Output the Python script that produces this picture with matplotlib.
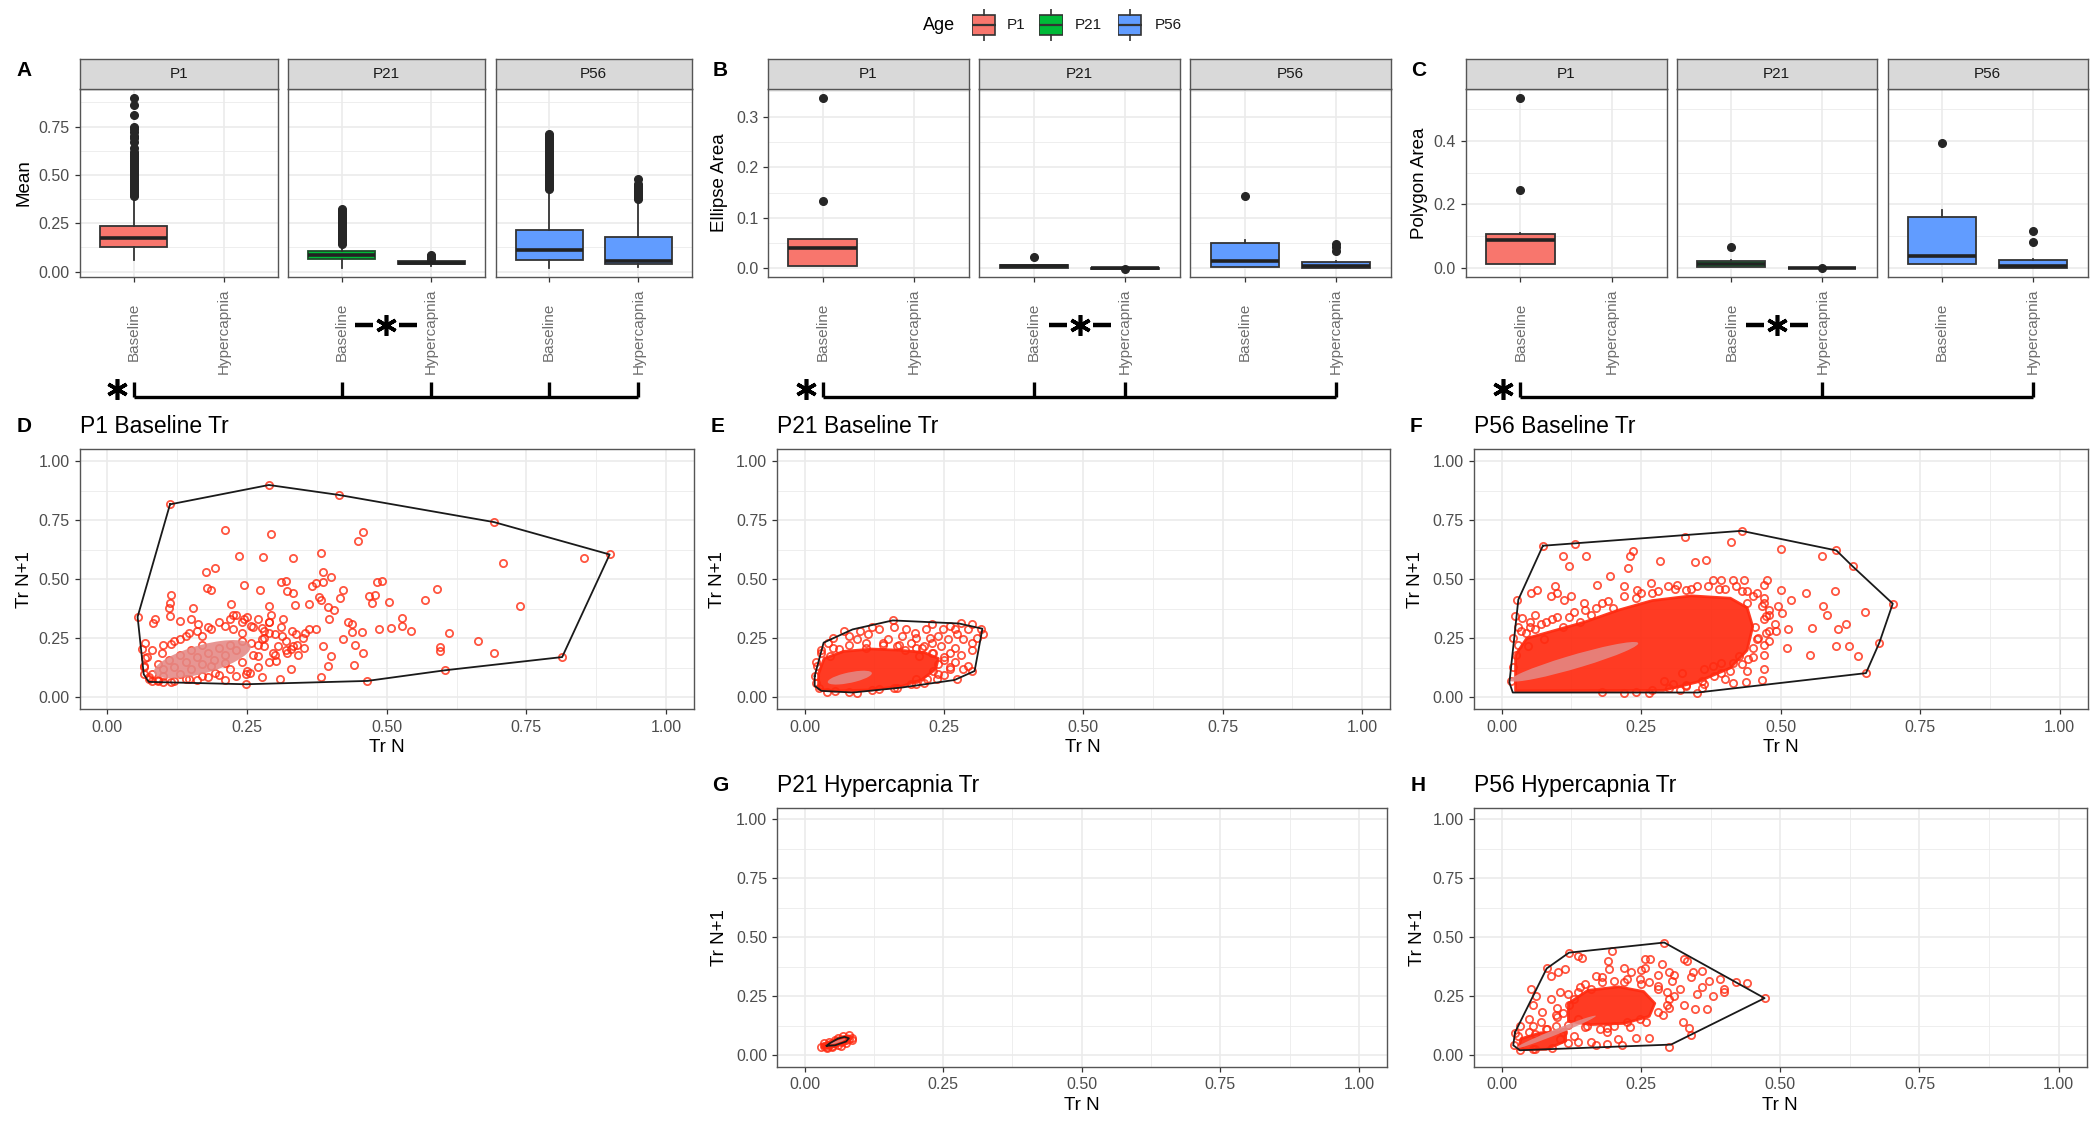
import numpy as np
import matplotlib.pyplot as plt
from matplotlib.patches import Ellipse, Polygon, Rectangle
from matplotlib.lines import Line2D

plt.rcParams['font.family'] = ['Liberation Sans', 'DejaVu Sans']

# ---------------- box plot data ----------------
ages = ["P1", "P21", "P56"]
age_colors = ["#F8766D", "#00BA38", "#619CFF"]
conditions = ["Baseline", "Hypercapnia"]

# order: P1 Baseline, P21 Baseline, P21 Hypercapnia, P56 Baseline, P56 Hypercapnia
mean_q1 = [0.129, 0.066, 0.038, 0.060, 0.040]
mean_med = [0.176, 0.088, 0.045, 0.112, 0.055]
mean_q3 = [0.236, 0.107, 0.057, 0.216, 0.178]
mean_lo = [0.060, 0.017, 0.030, 0.017, 0.026]
mean_hi = [0.388, 0.140, 0.060, 0.420, 0.370]
mean_fliers = [
    [0.39, 0.40, 0.41, 0.42, 0.43, 0.44, 0.45, 0.46, 0.47, 0.48, 0.49, 0.50, 0.51, 0.52,
     0.53, 0.54, 0.55, 0.56, 0.57, 0.58, 0.59, 0.60, 0.61, 0.62, 0.64, 0.67, 0.69, 0.70,
     0.72, 0.74, 0.75, 0.81, 0.86, 0.90],
    [0.145, 0.155, 0.165, 0.175, 0.185, 0.195, 0.205, 0.215, 0.225, 0.235, 0.245, 0.255,
     0.265, 0.275, 0.285, 0.295, 0.305, 0.315, 0.325],
    [0.065, 0.07, 0.075, 0.08, 0.085],
    [0.43, 0.44, 0.45, 0.46, 0.47, 0.48, 0.49, 0.50, 0.51, 0.52, 0.53, 0.54, 0.55, 0.56,
     0.57, 0.58, 0.59, 0.60, 0.61, 0.62, 0.63, 0.64, 0.65, 0.66, 0.67, 0.68, 0.69, 0.70, 0.71],
    [0.375, 0.385, 0.395, 0.405, 0.415, 0.425, 0.435, 0.445, 0.455, 0.48],
]

ell_q1 = [0.0053, 0.0013, -0.0005, 0.0033, 0.0]
ell_med = [0.041, 0.004, 0.0, 0.0145, 0.005]
ell_q3 = [0.0574, 0.0066, 0.0008, 0.051, 0.012]
ell_lo = [0.0053, 0.0, -0.001, 0.0033, 0.0]
ell_hi = [0.0574, 0.0070, 0.001, 0.057, 0.015]
ell_fliers = [[0.133, 0.336], [0.023], [-0.001], [0.144], [0.035, 0.043, 0.048]]

poly_q1 = [0.0126, 0.005, -0.001, 0.0126, 0.0]
poly_med = [0.089, 0.012, 0.0, 0.039, 0.008]
poly_q3 = [0.107, 0.021, 0.001, 0.162, 0.025]
poly_lo = [0.0126, 0.003, -0.002, 0.0126, 0.0]
poly_hi = [0.11, 0.025, 0.002, 0.183, 0.03]
poly_fliers = [[0.246, 0.534], [0.066], [0.0], [0.393], [0.081, 0.118]]

# ---------------- scatter data (Tr N, Tr N+1) ----------------
d_pts = [
    (0.210, 0.709), (0.292, 0.692), (0.458, 0.699), (0.448, 0.664), (0.236, 0.597), (0.279, 0.594),
    (0.333, 0.590), (0.383, 0.611), (0.708, 0.569), (0.853, 0.590), (0.176, 0.529), (0.193, 0.548),
    (0.385, 0.529), (0.401, 0.510), (0.385, 0.489), (0.311, 0.487), (0.319, 0.492), (0.245, 0.475),
    (0.273, 0.456), (0.179, 0.463), (0.186, 0.454), (0.321, 0.449), (0.333, 0.442), (0.366, 0.473),
    (0.374, 0.485), (0.421, 0.456), (0.483, 0.487), (0.491, 0.492), (0.479, 0.435), (0.469, 0.431),
    (0.474, 0.400), (0.504, 0.403), (0.568, 0.412), (0.590, 0.459), (0.739, 0.389), (0.379, 0.426),
    (0.382, 0.414), (0.417, 0.421), (0.395, 0.383), (0.405, 0.372), (0.397, 0.333), (0.361, 0.397),
    (0.336, 0.393), (0.289, 0.389), (0.221, 0.397), (0.154, 0.379), (0.114, 0.435), (0.112, 0.400),
    (0.110, 0.379), (0.086, 0.330), (0.082, 0.316), (0.112, 0.344), (0.130, 0.323), (0.162, 0.309),
    (0.150, 0.330), (0.210, 0.302), (0.224, 0.347), (0.244, 0.330), (0.289, 0.319), (0.315, 0.330),
    (0.361, 0.288), (0.373, 0.288), (0.431, 0.319), (0.437, 0.313), (0.437, 0.277), (0.455, 0.279),
    (0.487, 0.288), (0.508, 0.295), (0.527, 0.302), (0.527, 0.337), (0.544, 0.281), (0.612, 0.274),
    (0.664, 0.239), (0.692, 0.187), (0.595, 0.215), (0.595, 0.197), (0.458, 0.190), (0.444, 0.221),
    (0.421, 0.249), (0.386, 0.218), (0.401, 0.176), (0.394, 0.133), (0.382, 0.088), (0.442, 0.136),
    (0.309, 0.080), (0.276, 0.087), (0.248, 0.098), (0.256, 0.103), (0.301, 0.154), (0.297, 0.190),
    (0.289, 0.274), (0.313, 0.260), (0.337, 0.267), (0.353, 0.274), (0.329, 0.204), (0.321, 0.190),
    (0.351, 0.211), (0.341, 0.178), (0.333, 0.218), (0.329, 0.119), (0.305, 0.218), (0.269, 0.176),
    (0.281, 0.218), (0.257, 0.232), (0.277, 0.246), (0.241, 0.274), (0.225, 0.288), (0.257, 0.302),
    (0.277, 0.295), (0.293, 0.347), (0.210, 0.147), (0.193, 0.105), (0.186, 0.133), (0.170, 0.091),
    (0.146, 0.077), (0.114, 0.066), (0.090, 0.070), (0.074, 0.077), (0.066, 0.133), (0.068, 0.169),
    (0.062, 0.204), (0.068, 0.232), (0.098, 0.190), (0.114, 0.225), (0.130, 0.246), (0.146, 0.274),
    (0.170, 0.260), (0.186, 0.288), (0.112, 0.817), (0.289, 0.899), (0.414, 0.857), (0.692, 0.742),
    (0.899, 0.605), (0.814, 0.171), (0.604, 0.115), (0.465, 0.070), (0.248, 0.056), (0.054, 0.341),
    (0.08, 0.07), (0.10, 0.065), (0.12, 0.07), (0.14, 0.08), (0.16, 0.075), (0.18, 0.085),
    (0.20, 0.095), (0.22, 0.12), (0.24, 0.15), (0.26, 0.18), (0.27, 0.22), (0.28, 0.25),
    (0.26, 0.30), (0.24, 0.32), (0.22, 0.33), (0.20, 0.32), (0.18, 0.30), (0.16, 0.28),
    (0.14, 0.26), (0.12, 0.24), (0.10, 0.22), (0.08, 0.20), (0.07, 0.17), (0.065, 0.13),
    (0.23, 0.35), (0.25, 0.34), (0.27, 0.33), (0.29, 0.32), (0.31, 0.30), (0.33, 0.28),
    (0.35, 0.25), (0.34, 0.22), (0.32, 0.20), (0.30, 0.18), (0.29, 0.15), (0.27, 0.13),
    (0.25, 0.11), (0.23, 0.09), (0.21, 0.075), (0.08, 0.10), (0.10, 0.12), (0.12, 0.13),
    (0.14, 0.15), (0.16, 0.17), (0.18, 0.19), (0.20, 0.21), (0.22, 0.22), (0.24, 0.24),
    (0.10, 0.09), (0.13, 0.10), (0.15, 0.12), (0.17, 0.14), (0.19, 0.16), (0.21, 0.18),
    (0.23, 0.20), (0.09, 0.14), (0.11, 0.16), (0.13, 0.18), (0.15, 0.20), (0.17, 0.22),
    (0.075, 0.085), (0.09, 0.075), (0.065, 0.10), (0.28, 0.28), (0.30, 0.27), (0.32, 0.24),
]
d_hull = [(0.112, 0.817), (0.289, 0.899), (0.414, 0.857), (0.692, 0.742), (0.899, 0.605),
          (0.814, 0.171), (0.604, 0.115), (0.465, 0.070), (0.248, 0.056), (0.074, 0.066),
          (0.065, 0.098), (0.054, 0.341)]
d_ellipse = (0.170, 0.162, 0.215, 0.10, 42)

e_pts = [
    (0.158, 0.326), (0.182, 0.288), (0.134, 0.288), (0.114, 0.267), (0.070, 0.281), (0.094, 0.246),
    (0.042, 0.232), (0.062, 0.204), (0.150, 0.246), (0.174, 0.260), (0.198, 0.274), (0.218, 0.288),
    (0.229, 0.309), (0.249, 0.288), (0.261, 0.302), (0.281, 0.316), (0.293, 0.288), (0.317, 0.288),
    (0.273, 0.267), (0.257, 0.246), (0.285, 0.246), (0.301, 0.232), (0.245, 0.218), (0.229, 0.232),
    (0.214, 0.218), (0.190, 0.232), (0.166, 0.218), (0.261, 0.190), (0.229, 0.190), (0.206, 0.176),
    (0.293, 0.133), (0.285, 0.119), (0.301, 0.112), (0.273, 0.077), (0.237, 0.077), (0.214, 0.063),
    (0.190, 0.056), (0.166, 0.042), (0.134, 0.035), (0.094, 0.021), (0.054, 0.028), (0.026, 0.042),
    (0.018, 0.091), (0.022, 0.133), (0.320, 0.270), (0.310, 0.250), (0.270, 0.210), (0.250, 0.170),
    (0.240, 0.140), (0.270, 0.150), (0.280, 0.180), (0.300, 0.200), (0.200, 0.250), (0.120, 0.300),
    (0.100, 0.280), (0.050, 0.250), (0.030, 0.200), (0.160, 0.300), (0.210, 0.210), (0.180, 0.200),
    (0.270, 0.290), (0.240, 0.260), (0.140, 0.230), (0.110, 0.210), (0.260, 0.120), (0.230, 0.110),
    (0.200, 0.080), (0.250, 0.095), (0.080, 0.260), (0.045, 0.175), (0.300, 0.310), (0.225, 0.250),
    (0.030, 0.190), (0.050, 0.210), (0.080, 0.220), (0.110, 0.230), (0.140, 0.220), (0.170, 0.220),
    (0.200, 0.210), (0.230, 0.190), (0.250, 0.160), (0.260, 0.130), (0.240, 0.100), (0.220, 0.080),
    (0.200, 0.055), (0.160, 0.040), (0.120, 0.030), (0.080, 0.025), (0.040, 0.025), (0.020, 0.060),
    (0.020, 0.150),
]
e_core = [(0.025, 0.035), (0.05, 0.027), (0.12, 0.032), (0.175, 0.048), (0.21, 0.075), (0.235, 0.12),
          (0.24, 0.165), (0.215, 0.19), (0.17, 0.2), (0.12, 0.205), (0.07, 0.195), (0.035, 0.165),
          (0.025, 0.1)]
e_hull = [(0.018, 0.091), (0.034, 0.232), (0.086, 0.288), (0.158, 0.326), (0.277, 0.313),
          (0.319, 0.291), (0.305, 0.112), (0.269, 0.074), (0.174, 0.042), (0.086, 0.021),
          (0.030, 0.028), (0.018, 0.049)]
e_ellipse = (0.081, 0.084, 0.09, 0.04, 32)

f_pts = [
    (0.074, 0.642), (0.131, 0.650), (0.110, 0.600), (0.120, 0.558), (0.151, 0.597), (0.235, 0.618),
    (0.231, 0.597), (0.227, 0.548), (0.284, 0.576), (0.328, 0.678), (0.347, 0.572), (0.367, 0.583),
    (0.412, 0.656), (0.430, 0.705), (0.500, 0.628), (0.574, 0.600), (0.600, 0.622), (0.629, 0.555),
    (0.701, 0.397), (0.598, 0.449), (0.576, 0.386), (0.584, 0.351), (0.652, 0.362), (0.618, 0.313),
    (0.602, 0.288), (0.556, 0.295), (0.514, 0.291), (0.492, 0.281), (0.512, 0.211), (0.552, 0.178),
    (0.600, 0.218), (0.622, 0.218), (0.639, 0.176), (0.677, 0.232), (0.653, 0.103), (0.500, 0.454),
    (0.546, 0.442), (0.518, 0.414), (0.496, 0.386), (0.502, 0.358), (0.470, 0.119), (0.466, 0.074),
    (0.438, 0.066), (0.414, 0.063), (0.393, 0.105), (0.351, 0.021), (0.331, 0.052), (0.308, 0.056),
    (0.265, 0.021), (0.291, 0.070), (0.378, 0.499), (0.394, 0.499), (0.414, 0.499), (0.434, 0.499),
    (0.476, 0.499), (0.470, 0.478), (0.458, 0.442), (0.466, 0.386), (0.474, 0.344), (0.474, 0.274),
    (0.458, 0.246), (0.450, 0.211), (0.442, 0.161), (0.426, 0.176), (0.414, 0.147), (0.394, 0.147),
    (0.378, 0.133), (0.363, 0.119), (0.363, 0.056), (0.323, 0.105), (0.052, 0.442), (0.064, 0.456),
    (0.028, 0.414), (0.024, 0.344), (0.036, 0.337), (0.088, 0.428), (0.096, 0.470), (0.100, 0.442),
    (0.112, 0.414), (0.124, 0.428), (0.148, 0.400), (0.171, 0.478), (0.195, 0.513), (0.219, 0.470),
    (0.243, 0.456), (0.267, 0.485), (0.299, 0.470), (0.315, 0.478), (0.331, 0.456), (0.060, 0.288),
    (0.044, 0.274), (0.076, 0.246), (0.048, 0.218), (0.016, 0.070), (0.020, 0.130), (0.030, 0.300),
    (0.060, 0.350), (0.080, 0.320), (0.130, 0.360), (0.160, 0.350), (0.180, 0.400), (0.200, 0.380),
    (0.240, 0.420), (0.270, 0.440), (0.350, 0.470), (0.390, 0.460), (0.420, 0.470), (0.440, 0.450),
    (0.470, 0.420), (0.480, 0.350), (0.490, 0.310), (0.480, 0.240), (0.470, 0.180), (0.440, 0.110),
    (0.400, 0.080), (0.360, 0.040), (0.320, 0.030), (0.220, 0.020), (0.180, 0.025), (0.100, 0.340),
    (0.140, 0.320), (0.110, 0.300), (0.050, 0.320), (0.020, 0.250),
    (0.050, 0.300), (0.070, 0.310), (0.090, 0.330), (0.120, 0.340), (0.150, 0.370), (0.170, 0.380),
    (0.190, 0.410), (0.220, 0.430), (0.250, 0.440), (0.280, 0.450), (0.310, 0.460), (0.340, 0.460),
    (0.370, 0.470), (0.400, 0.460), (0.430, 0.450), (0.450, 0.430), (0.470, 0.400), (0.480, 0.370),
    (0.470, 0.330), (0.480, 0.280), (0.460, 0.250), (0.470, 0.220), (0.450, 0.170), (0.430, 0.140),
    (0.410, 0.110), (0.380, 0.090), (0.360, 0.070), (0.330, 0.050), (0.300, 0.040), (0.270, 0.030),
    (0.240, 0.025), (0.030, 0.220), (0.035, 0.280), (0.025, 0.180), (0.455, 0.300), (0.440, 0.400),
]
f_core = [(0.025, 0.028), (0.29, 0.03), (0.35, 0.065), (0.41, 0.125), (0.44, 0.20), (0.45, 0.30),
          (0.44, 0.38), (0.41, 0.42), (0.34, 0.43), (0.27, 0.41), (0.21, 0.37), (0.15, 0.32),
          (0.09, 0.28), (0.045, 0.25), (0.025, 0.18)]
f_hull = [(0.074, 0.642), (0.430, 0.705), (0.600, 0.622), (0.629, 0.555), (0.701, 0.397),
          (0.677, 0.232), (0.653, 0.103), (0.351, 0.021), (0.020, 0.021), (0.014, 0.063),
          (0.030, 0.414)]
f_ellipse = (0.13, 0.151, 0.28, 0.05, 35.5)

g_pts = [
    (0.030, 0.035), (0.035, 0.040), (0.040, 0.035), (0.045, 0.045), (0.050, 0.040), (0.055, 0.050),
    (0.060, 0.045), (0.065, 0.055), (0.070, 0.060), (0.075, 0.065), (0.080, 0.070), (0.085, 0.075),
    (0.080, 0.085), (0.070, 0.080), (0.060, 0.075), (0.055, 0.065), (0.045, 0.055), (0.035, 0.050),
    (0.065, 0.040), (0.075, 0.050), (0.085, 0.065), (0.040, 0.030), (0.050, 0.035),
]
g_core = [(0.032, 0.032), (0.05, 0.034), (0.07, 0.05), (0.084, 0.068), (0.08, 0.082),
          (0.065, 0.077), (0.048, 0.06), (0.033, 0.045)]
g_hull = [(0.040, 0.040), (0.055, 0.042), (0.075, 0.058), (0.080, 0.072), (0.072, 0.078),
          (0.060, 0.070), (0.045, 0.050)]
g_ellipse = (0.06, 0.058, 0.035, 0.008, 40)

h_pts = [
    (0.024, 0.096), (0.081, 0.368), (0.121, 0.435), (0.199, 0.442), (0.292, 0.478), (0.137, 0.421),
    (0.191, 0.400), (0.193, 0.365), (0.257, 0.407), (0.267, 0.407), (0.233, 0.351), (0.257, 0.372),
    (0.288, 0.386), (0.301, 0.351), (0.332, 0.400), (0.344, 0.351), (0.360, 0.358), (0.306, 0.316),
    (0.372, 0.316), (0.392, 0.323), (0.400, 0.281), (0.400, 0.267), (0.420, 0.312), (0.440, 0.306),
    (0.472, 0.242), (0.368, 0.197), (0.348, 0.197), (0.328, 0.211), (0.326, 0.143), (0.336, 0.115),
    (0.340, 0.084), (0.300, 0.035), (0.265, 0.073), (0.241, 0.073), (0.217, 0.042), (0.209, 0.070),
    (0.189, 0.049), (0.161, 0.056), (0.137, 0.056), (0.105, 0.070), (0.057, 0.028), (0.033, 0.021),
    (0.022, 0.042), (0.053, 0.281), (0.061, 0.253), (0.057, 0.211), (0.073, 0.183), (0.089, 0.239),
    (0.105, 0.267), (0.089, 0.337), (0.101, 0.351), (0.113, 0.365), (0.145, 0.414), (0.169, 0.337),
    (0.161, 0.281), (0.137, 0.267), (0.121, 0.211), (0.097, 0.169), (0.049, 0.154), (0.033, 0.126),
    (0.057, 0.126), (0.081, 0.112), (0.097, 0.126), (0.137, 0.154), (0.153, 0.126), (0.177, 0.112),
    (0.201, 0.126), (0.225, 0.140), (0.249, 0.154), (0.280, 0.183), (0.297, 0.211), (0.297, 0.267),
    (0.280, 0.295), (0.265, 0.309), (0.249, 0.323), (0.225, 0.323), (0.201, 0.316), (0.328, 0.407),
    (0.169, 0.042), (0.189, 0.098), (0.310, 0.250), (0.320, 0.280), (0.350, 0.260), (0.380, 0.250),
    (0.360, 0.290), (0.340, 0.330), (0.310, 0.340), (0.280, 0.340), (0.250, 0.360), (0.220, 0.370),
    (0.180, 0.330), (0.150, 0.300), (0.130, 0.240), (0.110, 0.180), (0.070, 0.140), (0.060, 0.090),
    (0.100, 0.160), (0.100, 0.200), (0.120, 0.260), (0.140, 0.290), (0.180, 0.310), (0.220, 0.310),
    (0.250, 0.300), (0.280, 0.280), (0.300, 0.240), (0.300, 0.200), (0.290, 0.170), (0.260, 0.140),
    (0.230, 0.120), (0.190, 0.115), (0.150, 0.120), (0.120, 0.130), (0.030, 0.080), (0.050, 0.100),
    (0.080, 0.110), (0.110, 0.100), (0.130, 0.080), (0.120, 0.050), (0.090, 0.030), (0.060, 0.025),
]
h_core = [(0.12, 0.145), (0.16, 0.13), (0.22, 0.135), (0.265, 0.165), (0.275, 0.22), (0.255, 0.27),
          (0.21, 0.29), (0.155, 0.275), (0.12, 0.22)]
h_core2 = [(0.03, 0.025), (0.08, 0.025), (0.115, 0.06), (0.115, 0.1), (0.07, 0.095), (0.035, 0.07)]
h_hull = [(0.024, 0.096), (0.081, 0.368), (0.121, 0.435), (0.292, 0.478), (0.472, 0.242),
          (0.304, 0.045), (0.033, 0.021), (0.021, 0.042)]
h_ellipse = (0.097, 0.098, 0.20, 0.018, 44)

# ---------------- layout ----------------
W, H = 2100, 1124
fig = plt.figure(figsize=(W / 100, H / 100), dpi=100)

GRID = "#EBEBEB"
BORDER = "#555555"
TICKC = "#4D4D4D"
RED = "#FF2A10"


def add_ax(l, t, r, b):
    return fig.add_axes([l / W, 1 - b / H, (r - l) / W, (b - t) / H])


def style_frame(ax):
    for s in ax.spines.values():
        s.set_color(BORDER)
        s.set_linewidth(1.0)
    ax.set_facecolor("white")
    ax.tick_params(colors="#333333", labelcolor=TICKC, length=3.5, width=0.9, labelsize=11.5)
    ax.set_axisbelow(True)


def stats_for(q1, med, q3, lo, hi, fl):
    return [dict(q1=q1[i], med=med[i], q3=q3[i], whislo=lo[i], whishi=hi[i], fliers=fl[i])
            for i in range(len(q1))]


box_panels = [
    ("A", "Mean", stats_for(mean_q1, mean_med, mean_q3, mean_lo, mean_hi, mean_fliers),
     (-0.026, 0.943), [0, 0.25, 0.5, 0.75], ["0.00", "0.25", "0.50", "0.75"],
     [(79.5, 277.7), (288, 484.8), (495.5, 692)], 24.5,
     [(0, 1), (1, 1), (1, 2), (2, 1), (2, 2)]),
    ("B", "Ellipse Area", stats_for(ell_q1, ell_med, ell_q3, ell_lo, ell_hi, ell_fliers),
     (-0.0164, 0.354), [0, 0.1, 0.2, 0.3], ["0.0", "0.1", "0.2", "0.3"],
     [(767.9, 968.75), (979, 1180), (1190, 1391)], 720,
     [(0, 1), (1, 1), (1, 2), (2, 2)]),
    ("C", "Polygon Area", stats_for(poly_q1, poly_med, poly_q3, poly_lo, poly_hi, poly_fliers),
     (-0.027, 0.562), [0, 0.2, 0.4], ["0.0", "0.2", "0.4"],
     [(1465.6, 1666.5), (1676.8, 1876.8), (1887.5, 2087.5)], 1419,
     [(0, 1), (1, 2), (2, 2)]),
]

# which stats go into which facet, and their x positions
facet_members = [[(0, 1)], [(1, 1), (2, 2)], [(3, 1), (4, 2)]]
strip_top, strip_bot, pan_bot = 59.3, 89.3, 276.7
to_fig = fig.transFigure.inverted()

for letter, ylab, stats, ylim, yt, ytl, xext, lab_x, brack in box_panels:
    facet_axes = []
    for k, (l, r) in enumerate(xext):
        ax = add_ax(l, strip_bot, r, pan_bot)
        style_frame(ax)
        for gi, pos in facet_members[k]:
            fill = age_colors[k]
            edge = "#333333"
            if letter == "A" and k == 1 and pos == 1:
                edge = "#1E4D2B"
            ax.bxp([stats[gi]], positions=[pos], widths=0.75, patch_artist=True, showcaps=False,
                   manage_ticks=False,
                   boxprops=dict(facecolor=fill, edgecolor=edge, linewidth=1.3),
                   medianprops=dict(color="#222222", linewidth=2.6),
                   whiskerprops=dict(color="#333333", linewidth=1.3),
                   flierprops=dict(marker="o", markerfacecolor="#262626", markeredgecolor="#262626",
                                   markersize=5.5))
        ax.set_xlim(0.4, 2.6)
        ax.set_ylim(*ylim)
        ax.set_yticks(yt)
        ax.set_yticks([(yt[i] + yt[i + 1]) / 2 for i in range(len(yt) - 1)]
                      + [yt[-1] + (yt[1] - yt[0]) / 2], minor=True)
        ax.set_xticks([1, 2])
        ax.set_xticklabels(conditions, rotation=90, va="center", ha="center", fontsize=11, color="#6E6E6E")
        ax.tick_params(axis="x", pad=36)
        ax.grid(True, which="major", color=GRID, lw=1.2)
        ax.grid(True, which="minor", axis="y", color=GRID, lw=0.6)
        ax.tick_params(axis="y", which="minor", length=0)
        if k == 0:
            ax.set_yticklabels(ytl)
        else:
            ax.tick_params(axis="y", left=False, labelleft=False)
        # strip
        sax = add_ax(l, strip_top, r, strip_bot)
        sax.set_facecolor("#D9D9D9")
        sax.set_xticks([])
        sax.set_yticks([])
        for s in sax.spines.values():
            s.set_color(BORDER)
            s.set_linewidth(1.0)
        sax.text(0.5, 0.5, ages[k], ha="center", va="center", fontsize=11, color="#1A1A1A",
                 transform=sax.transAxes)
        facet_axes.append(ax)

    fig.text(lab_x / W, 1 - 70 / H, letter, fontsize=15, fontweight="bold", ha="center", va="center")
    fig.text(lab_x / W, 1 - 183 / H, ylab, fontsize=13.5, rotation=90, ha="center", va="center")

    # significance bracket
    xs = [to_fig.transform(facet_axes[f].transData.transform((p, 0)))[0] for f, p in brack]
    y_line = 1 - 397 / H
    y_top = 1 - 382 / H
    fig.add_artist(Line2D([xs[0], xs[-1]], [y_line, y_line], color="black", lw=2.4,
                          transform=fig.transFigure, solid_capstyle="butt"))
    for xv in xs:
        fig.add_artist(Line2D([xv, xv], [y_line, y_top], color="black", lw=2.4,
                              transform=fig.transFigure, solid_capstyle="butt"))
    fig.add_artist(Line2D([xs[0] - 17 / W], [1 - 389 / H], marker=(6, 2, 0), ms=15, mew=2.6,
                          color="black", transform=fig.transFigure))
    # -*- between P21 Baseline and Hypercapnia
    xa = to_fig.transform(facet_axes[1].transData.transform((1, 0)))[0]
    xb = to_fig.transform(facet_axes[1].transData.transform((2, 0)))[0]
    xm = (xa + xb) / 2
    ym = 1 - 325 / H
    fig.add_artist(Line2D([xm], [ym], marker=(6, 2, 0), ms=15, mew=2.6, color="black",
                          transform=fig.transFigure))
    for sgn in (-1, 1):
        fig.add_artist(Line2D([xm + sgn * 13 / W, xm + sgn * 31 / W], [ym, ym], color="black",
                              lw=3.2, transform=fig.transFigure, solid_capstyle="butt"))

# legend
fig.text(923 / W, 1 - 25 / H, "Age", fontsize=13, ha="left", va="center")
legend_keys = [(983.5, 1007), (1051, 1075), (1129.5, 1154.5)]
for k, (cx, tx) in enumerate(legend_keys):
    kax = add_ax(cx - 12, 25 - 16, cx + 12, 25 + 16)
    kax.axis("off")
    kax.set_xlim(0, 1)
    kax.set_ylim(0, 1)
    kax.add_patch(Rectangle((0.02, 0.2), 0.96, 0.6, facecolor=age_colors[k], edgecolor="#333333", lw=1.2))
    kax.plot([0.02, 0.98], [0.5, 0.5], color="#333333", lw=1.6)
    kax.plot([0.5, 0.5], [0.8, 1.0], color="#333333", lw=1.2)
    kax.plot([0.5, 0.5], [0.0, 0.2], color="#333333", lw=1.2)
    fig.text(tx / W, 1 - 25 / H, ages[k], fontsize=11, ha="left", va="center", color="#1A1A1A")

# scatter panels
scatter_panels = [
    ("D", "P1 Baseline Tr", d_pts, None, d_hull, d_ellipse, (79.5, 449.3, 694, 709.3), 24.5),
    ("E", "P21 Baseline Tr", e_pts, [e_core], e_hull, e_ellipse, (776.8, 449.3, 1389.7, 709.3), 718),
    ("F", "P56 Baseline Tr", f_pts, [f_core], f_hull, f_ellipse, (1473.7, 449.3, 2087.5, 709.3), 1415.6),
    ("G", "P21 Hypercapnia Tr", g_pts, [g_core], g_hull, g_ellipse, (776.8, 807.7, 1386.6, 1067), 720),
    ("H", "P56 Hypercapnia Tr", h_pts, [h_core, h_core2], h_hull, h_ellipse, (1473.7, 807.7, 2086.6, 1067), 1418),
]
ticks = [0, 0.25, 0.5, 0.75, 1.0]
tick_labels = ["0.00", "0.25", "0.50", "0.75", "1.00"]

for letter, title, pts, cores, hull, ell, (l, t, r, b), lx in scatter_panels:
    ax = add_ax(l, t, r, b)
    style_frame(ax)
    ax.set_xlim(-0.05, 1.05)
    ax.set_ylim(-0.05, 1.05)
    ax.set_xticks(ticks)
    ax.set_xticklabels(tick_labels)
    ax.set_yticks(ticks)
    ax.set_yticklabels(tick_labels)
    ax.set_xticks([0.125, 0.375, 0.625, 0.875], minor=True)
    ax.set_yticks([0.125, 0.375, 0.625, 0.875], minor=True)
    ax.tick_params(which="minor", length=0)
    ax.tick_params(axis="x", pad=4)
    ax.grid(True, which="major", color=GRID, lw=1.2)
    ax.grid(True, which="minor", color=GRID, lw=0.6)
    if cores:
        for c in cores:
            ax.add_patch(Polygon(c, closed=True, facecolor=RED, edgecolor=RED, lw=2,
                                 joinstyle="round", alpha=0.92, zorder=2))
    arr = np.array(pts)
    ax.plot(arr[:, 0], arr[:, 1], linestyle="none", marker="o", ms=5.2, mfc="none",
            mec=RED, mew=1.3, alpha=0.8, zorder=3)
    cx, cy, ew, eh, ang = ell
    ax.add_patch(Ellipse((cx, cy), ew, eh, angle=ang, facecolor="#E48884", edgecolor="none",
                         alpha=0.88, zorder=4))
    hv = np.array(hull + [hull[0]])
    ax.plot(hv[:, 0], hv[:, 1], color="#1A1A1A", lw=1.3, zorder=5)

    tyc = t - 22.6
    fig.text(l / W, 1 - tyc / H, title, fontsize=16.5, ha="left", va="center")
    fig.text(lx / W, 1 - tyc / H, letter, fontsize=15, fontweight="bold", ha="center", va="center")
    fig.text(lx / W, 1 - (t + b) / 2 / H, "Tr N+1", fontsize=13.5, rotation=90, ha="center", va="center")
    fig.text((l + r) / 2 / W, 1 - (b + 38) / H, "Tr N", fontsize=13.5, ha="center", va="center")

fig.savefig("out.png", dpi=100, facecolor="white")
